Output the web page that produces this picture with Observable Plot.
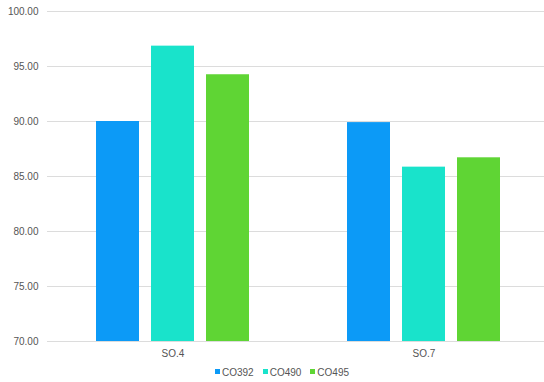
<!DOCTYPE html>
<html>
<head>
<meta charset="utf-8">
<script src="https://cdn.jsdelivr.net/npm/d3@7"></script>
<script src="https://cdn.jsdelivr.net/npm/@observablehq/plot@0.6"></script>
<style>
  body { margin: 0; background: #fff; font-family: "Helvetica Neue", Arial, "Liberation Sans", sans-serif; }
  #chart { width: 544px; overflow: hidden; }
  #chart svg { overflow: hidden; }
  .legend { display: flex; justify-content: center; gap: 9px; font-size: 10px; color: #555; height: 20px; align-items: center; margin-left: 20px; }
  .legend span.sw { display: inline-block; width: 5px; height: 5px; margin-right: 2px; vertical-align: middle; position: relative; top: -1px; }
</style>
</head>
<body>
<div id="chart"></div>
<script>
const categories = ["SO.4", "SO.7"];
const series = ["CO392", "CO490", "CO495"];
const colors = ["#0C9AF7", "#19E3CB", "#5FD534"];
const co392 = [90.0, 89.9];
const co490 = [96.85, 85.85];
const co495 = [94.25, 86.7];
const yTicks = [70, 75, 80, 85, 90, 95, 100];

const seriesValues = [co392, co490, co495];
const data = [];
categories.forEach((c, i) => {
  series.forEach((s, j) => data.push({cat: c, series: s, value: seriesValues[j][i]}));
});

const plot = Plot.plot({
  width: 544,
  height: 362,
  marginLeft: 47,
  marginRight: -5,
  marginTop: 11,
  marginBottom: 21,
  style: {fontFamily: "'Helvetica Neue', Arial, 'Liberation Sans', sans-serif", fontSize: "10px", color: "#555"},
  fx: {domain: categories, padding: 0, axis: "bottom", tickSize: 0, tickPadding: 8, label: null},
  x: {domain: series, axis: null, paddingInner: 0.214, paddingOuter: 0.85},
  y: {domain: [70, 100], ticks: yTicks, tickFormat: d3.format(".2f"), tickSize: 0, tickPadding: 9, label: null, grid: false},
  color: {domain: series, range: colors},
  marks: [
    Plot.gridY(yTicks, {stroke: "#dcdcdc", strokeOpacity: 1}),
    Plot.barY(data, {fx: "cat", x: "series", y1: 70, y2: "value", fill: "series"})
  ]
});
document.getElementById("chart").appendChild(plot);

const legend = document.createElement("div");
legend.className = "legend";
series.forEach((s, i) => {
  const item = document.createElement("div");
  item.innerHTML = `<span class="sw" style="background:${colors[i]}"></span>${s}`;
  legend.appendChild(item);
});
document.getElementById("chart").appendChild(legend);
</script>
</body>
</html>
